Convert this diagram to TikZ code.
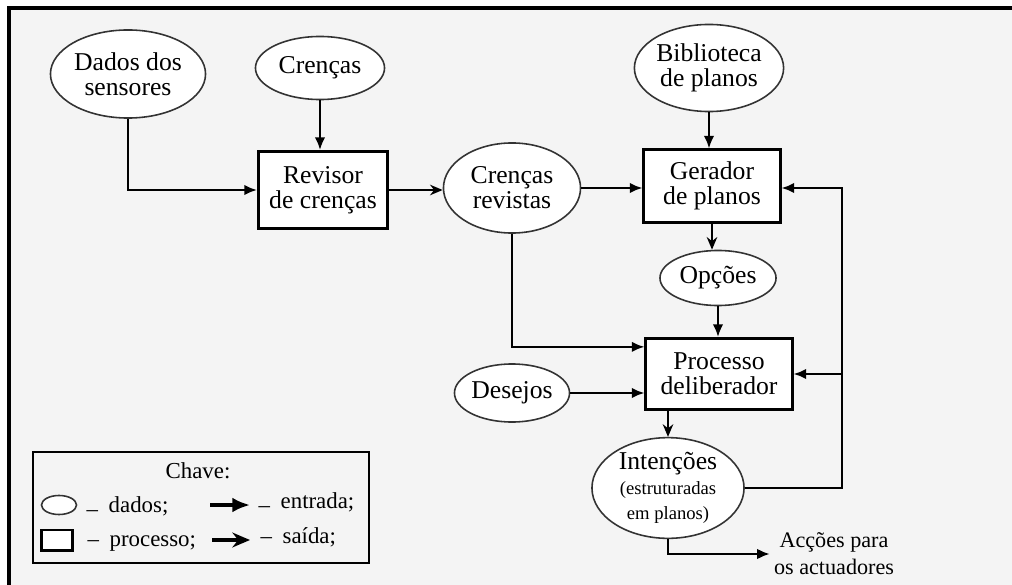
\documentclass[tikz,border=0pt]{standalone}
\usepackage{fontspec}
\setmainfont{Liberation Serif}
\usetikzlibrary{shapes.geometric,arrows.meta}
\definecolor{fundo}{HTML}{F4F4F4}
\newcommand{\pequeno}{\fontsize{5.3}{6.5}\selectfont}
\begin{document}
\begin{tikzpicture}[x=0.01cm, y=-0.01cm,
        dado/.style={ellipse, draw=black!80, line width=0.45pt, fill=white, inner sep=0pt, align=center, font=\fontsize{7.3}{7.1}\selectfont},
        processo/.style={rectangle, draw=black, line width=0.85pt, fill=white, inner sep=0pt, align=center, font=\fontsize{7.3}{7.1}\selectfont},
        entrada/.style={-{Latex[length=3.6pt,width=3pt]}, line width=0.6pt},
        saida/.style={-{Stealth[length=3.6pt,width=3pt]}, line width=0.45pt},
        chave/.style={font=\fontsize{6.5}{6.5}\selectfont, inner sep=0pt}
    ]
    \useasboundingbox (0,0) rectangle (1012,585);

    % Moldura
    \fill[fundo] (9,8) rectangle (1012,585);
    \draw[line width=0.9pt] (1012,8) -- (9,8) -- (9,585);

    % Entradas
    \node[dado, minimum width=1.55cm, minimum height=0.88cm] (sensores) at (128,74) {Dados dos\\sensores};
    \node[dado, minimum width=1.29cm, minimum height=0.63cm] (crencas) at (320,68) {Crenças};
    \node[dado, minimum width=1.43cm, minimum height=0.87cm] (biblioteca) at (709,68) {Biblioteca\\de planos};

    % Revisor de crencas
    \node[processo, minimum width=1.29cm, minimum height=0.77cm] (revisor) at (323,190) {Revisor\\de crenças};
    \node[dado, minimum width=1.37cm, minimum height=0.90cm] (revistas) at (512,188) {Crenças\\revistas};

    % Gerador e deliberador
    \node[processo, minimum width=1.36cm, minimum height=0.72cm] (gerador) at (712,186) {Gerador\\de planos};
    \node[dado, minimum width=1.16cm, minimum height=0.55cm] (opcoes) at (718,278) {Opções};
    \node[processo, minimum width=1.46cm, minimum height=0.71cm] (deliberador) at (719,374) {Processo\\deliberador};
    \node[dado, minimum width=1.15cm, minimum height=0.58cm] (desejos) at (512,393) {Desejos};
    \node[dado, minimum width=1.52cm, minimum height=0.97cm] (intencoes) at (668,488) {Intenções\\{\pequeno(estruturadas}\\{\pequeno em planos)}};
    \node[font=\fontsize{6.3}{7.7}\selectfont, align=center, inner sep=1pt] (accoes) at (834,554) {Acções para\\os actuadores};

    % Ligacoes
    \draw[entrada] (sensores.south) |- (revisor.west);
    \draw[entrada] (crencas.south) -- (crencas.south |- revisor.north);
    \draw[saida] (revisor.east) -- (revisor.east -| revistas.west);
    \draw[entrada] (revistas.east) -- (revistas.east -| gerador.west);
    \draw[entrada] (biblioteca.south) -- (biblioteca.south |- gerador.north);
    \draw[saida] (gerador.south) -- (gerador.south |- opcoes.north);
    \draw[entrada] (opcoes.south) -- (opcoes.south |- deliberador.north);
    \draw[entrada] (revistas.south) |- (deliberador.160);
    \draw[entrada] (desejos.east) -- (desejos.east -| deliberador.west);
    \draw[saida] (deliberador.south -| intencoes.north) -- (intencoes.north);

    % Realimentacao
    \coordinate (volta) at (842,188);
    \draw[entrada] (intencoes.east) -| (volta) -- (volta -| gerador.east);
    \draw[entrada] (volta |- deliberador.east) -- (deliberador.east);
    \draw[entrada] (intencoes.south) |- (accoes.west);

    % Chave
    \draw[line width=0.85pt] (33,452) rectangle (369,563);
    \node[chave, anchor=base] (titulo) at (198,478) {Chave:};
    \node[dado, minimum width=0.35cm, minimum height=0.19cm] (kdado) at (59,505) {};
    \node[chave, anchor=base west] (tdado) at (86,512) {\raisebox{-1.2pt}{–}\hspace{3pt}dados;};
    \coordinate (kentra) at (210,505);
    \node[chave, anchor=base west] (tentra) at (258,508) {\raisebox{-1.2pt}{–}\hspace{3pt}entrada;};
    \draw[entrada, line width=1pt, -{Latex[length=5pt,width=4.2pt]}] (kentra) -- ([xshift=-0.08cm]kentra -| tentra.west);
    \node[processo, minimum width=0.31cm, minimum height=0.2cm] (kproc) at (57,540) {};
    \node[chave, anchor=base west] (tproc) at (87,546) {–\hspace{3pt}processo;};
    \coordinate (ksai) at (212,540);
    \node[chave, anchor=base west] (tsai) at (260,543) {–\hspace{3pt}saída;};
    \draw[saida, line width=0.9pt, -{Stealth[length=5pt,width=4.2pt]}] (ksai) -- ([xshift=-0.1cm]ksai -| tsai.west);
\end{tikzpicture}
\end{document}
